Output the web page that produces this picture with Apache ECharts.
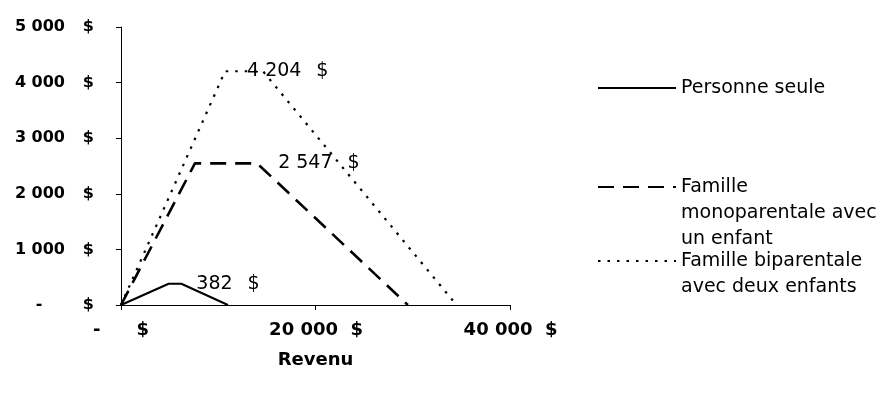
<!DOCTYPE html>
<html>
<head>
<meta charset="utf-8">
<script src="https://cdn.jsdelivr.net/npm/echarts@6/dist/echarts.min.js"></script>
<style>
  html, body { margin: 0; padding: 0; background: #fff; }
  #chart { width: 886px; height: 393px; }
</style>
</head>
<body>
<div id="chart"></div>
<script>
// Benefit schedule: amount ($) received as a function of income ($)
const seriesNames = [
  'Personne seule',
  'Famille\nmonoparentale avec\nun enfant',
  'Famille biparentale\navec deux enfants'
];
const revenuSeule = [0, 4900, 6200, 11000];
const montantSeule = [0, 382, 382, 0];
const revenuMono = [0, 7600, 14000, 29500];
const montantMono = [0, 2547, 2547, 0];
const revenuBi = [0, 10700, 14600, 34500];
const montantBi = [0, 4204, 4204, 0];
// point of each series that carries its value label
const labelPoint = [2, 2, 1];
const xTicks = [0, 20000, 40000];
const yTicks = [0, 1000, 2000, 3000, 4000, 5000];

const FONT = 'DejaVu Sans';

function fmt(v) {
  return String(Math.round(v)).replace(/\B(?=(\d{3})+(?!\d))/g, ' ');
}

function bold(size, extra) {
  return Object.assign({ fontFamily: FONT, fontWeight: 'bold', fontSize: size, color: '#000' }, extra || {});
}

function buildData(xs, ys, labelAt, dist) {
  return xs.map(function (x, i) {
    const item = { value: [x, ys[i]] };
    if (i === labelAt) {
      item.label = {
        show: true,
        position: 'right',
        distance: dist,
        formatter: function (p) { return '{v|' + fmt(p.value[1]) + '}{d|$}'; },
        rich: {
          v: { fontFamily: FONT, fontSize: 19, color: '#000' },
          d: { fontFamily: FONT, fontSize: 19, color: '#000', width: 27, align: 'right' }
        }
      };
    }
    return item;
  });
}

const lineStyles = [
  { color: '#000', width: 2, type: 'solid' },
  { color: '#000', width: 2.6, type: [16, 9] },
  { color: '#000', width: 2.2, type: [2.5, 7] }
];

const seriesX = [revenuSeule, revenuMono, revenuBi];
const seriesY = [montantSeule, montantMono, montantBi];
const labelDist = [15, 21, 22];

const series = seriesNames.map(function (name, k) {
  return {
    name: name,
    type: 'line',
    symbol: 'circle',
    symbolSize: 0,
    showSymbol: true,
    showAllSymbol: true,
    data: buildData(seriesX[k], seriesY[k], labelPoint[k], labelDist[k]),
    itemStyle: { color: '#000' },
    lineStyle: lineStyles[k],
    emphasis: { disabled: true },
    z: 3 + k
  };
});

// one legend block per series; leading blank lines keep each sample line
// level with the first line of its text
const legendTops = [75, 122, 222];
const legendLead = ['', '\n\n', '\n'];
const legend = seriesNames.map(function (name, k) {
  return {
    data: [name],
    orient: 'vertical',
    left: 597,
    top: legendTops[k],
    padding: 0,
    itemWidth: 78,
    itemHeight: 26,
    selectedMode: false,
    itemStyle: { opacity: 0 },
    formatter: function (n) { return legendLead[k] + n; },
    textStyle: {
      fontFamily: FONT,
      fontSize: 19,
      color: '#000',
      lineHeight: 26
    }
  };
});

const chart = echarts.init(document.getElementById('chart'), null, { renderer: 'canvas' });
chart.setOption({
  animation: false,
  backgroundColor: '#fff',
  grid: { left: 121, right: 376, top: 27, bottom: 88, containLabel: false },
  legend: legend,
  tooltip: { show: false },
  xAxis: {
    type: 'value',
    min: xTicks[0],
    max: xTicks[xTicks.length - 1],
    interval: xTicks[1] - xTicks[0],
    name: 'Revenu',
    nameLocation: 'middle',
    nameGap: 46,
    nameTextStyle: bold(18),
    axisLine: { show: true, lineStyle: { color: '#000', width: 1 } },
    axisTick: { show: true, length: 5, lineStyle: { color: '#000' } },
    splitLine: { show: false },
    axisLabel: {
      margin: 16,
      formatter: function (v) {
        return v === 0 ? '{z|-}{d|$}' : '{n|' + fmt(v) + '}{d|$}';
      },
      rich: {
        z: bold(18, { width: 31, align: 'left' }),
        n: bold(18, { width: 70, align: 'right' }),
        d: bold(18, { width: 25, align: 'right' })
      }
    }
  },
  yAxis: {
    type: 'value',
    min: yTicks[0],
    max: yTicks[yTicks.length - 1],
    interval: yTicks[1] - yTicks[0],
    axisLine: { show: true, lineStyle: { color: '#000', width: 1 } },
    axisTick: { show: true, length: 5, lineStyle: { color: '#000' } },
    splitLine: { show: false },
    axisLabel: {
      margin: 27,
      formatter: function (v) {
        return v === 0 ? '{z|-}{d|$}' : '{n|' + fmt(v) + '}{d|$}';
      },
      rich: {
        z: bold(16, { width: 52, align: 'center' }),
        n: bold(16, { width: 52, align: 'right' }),
        d: bold(16, { width: 29, align: 'right' })
      }
    }
  },
  series: series
});
</script>
</body>
</html>
